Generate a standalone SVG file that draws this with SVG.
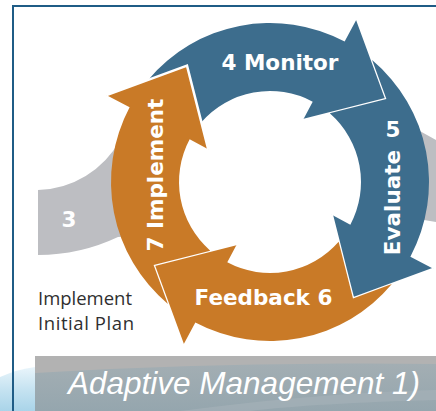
<svg xmlns="http://www.w3.org/2000/svg" width="436" height="411" viewBox="0 0 436 411">
<defs>
<style>
.lbl{font-family:"DejaVu Sans","Liberation Sans",sans-serif;font-weight:bold;font-size:21.5px;fill:#ffffff}
.plan{font-family:"Open Sans","Liberation Sans",sans-serif;font-size:18.5px;fill:#2f2f2f}
.title{font-family:"Liberation Sans",Arial,sans-serif;font-style:italic;font-size:31.5px;fill:#ffffff}
.blue{fill:#3d6d8d}
.orange{fill:#c97a27}
.grey{fill:#bdbec2}
.frame{stroke:#1f5c86;stroke-width:2;fill:none}
</style>
<g id="arrowShape">
<path d="M -121.88,-102.10 A 159 159 0 0 1 74.65,-140.38 L 86.86,-163.34 L 116.4,-83.0 L 32.86,-61.80 L 42.72,-80.34 A 91 91 0 0 0 -68.63,-59.76 L -83.0,-116.4 Z"/>
<path d="M 86.86,-163.34 L 116.4,-83.0 L 32.86,-61.80" fill="none" stroke="#ffffff" stroke-width="2.5" stroke-linejoin="miter"/>
</g>
<linearGradient id="swoosh" x1="0" y1="0" x2="0" y2="1">
<stop offset="0" stop-color="#e9f5fb"/>
<stop offset="0.5" stop-color="#c6e3f1"/>
<stop offset="1" stop-color="#a9d4e9"/>
</linearGradient>
<linearGradient id="bannerLow" x1="0" y1="0" x2="0" y2="1">
<stop offset="0" stop-color="#a3aeb3"/>
<stop offset="1" stop-color="#95a6ae"/>
</linearGradient>
</defs>

<g id="background">
<path d="M0,377 Q18,369 35,367 L35,411 L0,411 Z" fill="url(#swoosh)"/>
<rect x="35" y="356" width="401" height="55" fill="#b2b2b2"/>
<path d="M35,373 C150,366 300,362 436,364 L436,411 L35,411 Z" fill="url(#bannerLow)"/>
<path d="M180,411 C280,398 360,392 436,390 L436,400 C360,402 290,406 250,411 Z" fill="#a6b3b9" opacity="0.6"/>
<path class="frame" d="M12,6 H436 M13,5 V411"/>
</g>

<g id="step3">
<path class="grey" d="M38,190 A 96 96 0 0 0 120,140 L150,140 L150,235 L118,237 A 187 187 0 0 1 38,255 Z"/>
<path class="grey" d="M400,120 L436,140 L436,222 L424,220 L405,215 Z"/>
<text class="lbl" x="69" y="227" text-anchor="middle" font-size="20">3</text>
</g>

<g id="monitor">
<use href="#arrowShape" class="blue" transform="translate(270,182)"/>
<text class="lbl" x="280" y="70" text-anchor="middle">4 Monitor</text>
</g>

<g id="evaluate">
<use href="#arrowShape" class="blue" transform="translate(270,182) rotate(90)"/>
<text class="lbl" x="393" y="137" text-anchor="middle">5</text>
<text class="lbl" transform="translate(400,202.5) rotate(-90)" x="0" y="0" text-anchor="middle">Evaluate</text>
</g>

<g id="feedback">
<use href="#arrowShape" class="orange" transform="translate(270,182) rotate(180)"/>
<text class="lbl" x="263.5" y="305" text-anchor="middle">Feedback 6</text>
</g>

<g id="implement">
<use href="#arrowShape" class="orange" transform="translate(270,182) rotate(270)"/>
<text class="lbl" transform="translate(163,175) rotate(-90)" x="0" y="0" text-anchor="middle">7 Implement</text>
</g>

<g id="initial-plan">
<text class="plan" x="38" y="305" textLength="94" lengthAdjust="spacingAndGlyphs">Implement</text>
<text class="plan" x="38" y="330" textLength="96" lengthAdjust="spacing">Initial Plan</text>
</g>

<g id="title">
<text class="title" x="68" y="394">Adaptive Management 1)</text>
</g>
</svg>
